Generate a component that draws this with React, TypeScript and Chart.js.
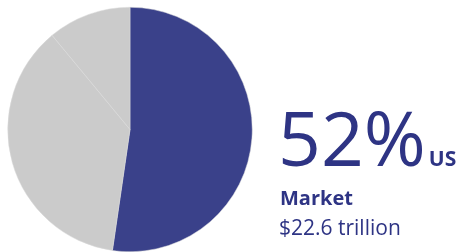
import React, { useEffect, useRef } from "react";
import { Chart, registerables } from "chart.js";

Chart.register(...registerables);

const labels = ["US", "Other", "Rest"];
const shares = [52.3, 36.7, 11.0];
const sliceColors = ["#3A418A", "#CBCBCB", "#CBCBCB"];
const headline = "52%";
const headlineSuffix = "US";
const subTitle = "Market";
const subValue = "$22.6 trillion";

const textPlugin = {
  id: "sideText",
  afterDraw(chart: any) {
    const ctx = chart.ctx as CanvasRenderingContext2D;
    ctx.save();
    ctx.fillStyle = "#2E3484";
    ctx.textBaseline = "alphabetic";
    ctx.textAlign = "left";
    ctx.font = "400 75px 'Open Sans'";
    ctx.fillText(headline, 278, 166);
    const w = ctx.measureText(headline).width;
    ctx.font = "700 21px 'Open Sans'";
    ctx.fillText(headlineSuffix, 278 + w + 3, 166);
    ctx.font = "700 20px 'Open Sans'";
    ctx.fillText(subTitle, 280, 205);
    ctx.font = "400 21px 'Open Sans'";
    ctx.fillText(subValue, 279, 235);
    ctx.restore();
  },
};

export default function App() {
  const ref = useRef<HTMLCanvasElement>(null);
  useEffect(() => {
    if (!ref.current) return;
    const chart = new Chart(ref.current, {
      type: "pie",
      data: {
        labels,
        datasets: [
          {
            data: shares,
            backgroundColor: sliceColors,
            borderColor: "#DADADA",
            borderWidth: 0.5,
          },
        ],
      },
      options: {
        animation: false,
        responsive: false,
        layout: { padding: { left: 7.5, right: 210.5, top: 7, bottom: 0 } },
        plugins: { legend: { display: false }, tooltip: { enabled: false } },
      },
      plugins: [textPlugin],
    });
    return () => chart.destroy();
  }, []);
  return (
    <div style={{ position: "absolute", left: 0, top: 0, width: 463, height: 252, background: "#fff" }}>
      <canvas ref={ref} width={463} height={252} style={{ display: "block" }} />
    </div>
  );
}
